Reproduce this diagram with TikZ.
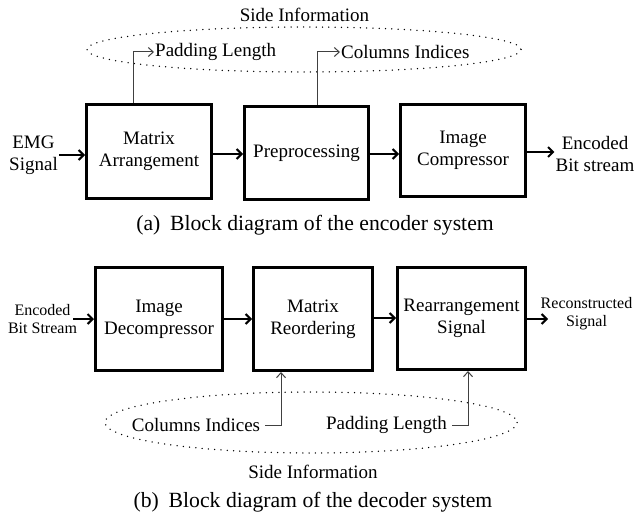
\documentclass[tikz,border=0pt]{standalone}
\usepackage{fontspec}
\setmainfont{Liberation Serif}
\usetikzlibrary{arrows.meta}
\begin{document}
\begin{tikzpicture}[x=1pt,y=-1pt,
 blk/.style={draw,line width=3pt,align=center,font=\fontsize{19}{22}\selectfont,inner sep=0pt},
 lbl/.style={align=center,font=\fontsize{19}{22}\selectfont,inner sep=1pt},
 small/.style={align=center,font=\fontsize{16}{18}\selectfont,inner sep=1pt},
 captext/.style={font=\fontsize{21.7}{26}\selectfont,inner sep=0pt},
 mainarr/.style={line width=2pt,-{Straight Barb[length=5pt,width=10pt]}},
 sidearr/.style={line width=1pt,draw=black!75,-{Straight Barb[length=5pt,width=9pt]}},
 dots/.style={line width=1.5pt,dash pattern=on 0pt off 6.3pt,line cap=round}]
\useasboundingbox (0,0) rectangle (634,516);

% ---------- encoder ----------
\draw[dots] (304,49.5) ellipse [x radius=217, y radius=22.5];
\node[lbl] (si1) at (304.5,15) {Side Information};
\node[lbl,anchor=west] (pl1) at (154,52) {Padding Length};
\node[lbl,anchor=west] (ci1) at (340,52) {Columns Indices};

\node[blk,minimum width=125,minimum height=94] (e1) at (149,151.5) {Matrix\\Arrangement};
\node[blk,minimum width=124,minimum height=93] (e2) at (306.5,153) {Preprocessing};
\node[blk,minimum width=125,minimum height=92] (e3) at (463,150.5) {Image\\Compressor};

\node[lbl] (emg) at (33.5,155) {EMG\\Signal};
\node[lbl] (enc) at (595,154) {Encoded\\Bit stream};

\draw[mainarr] (emg.east) -- (emg.east -| e1.west);
\draw[mainarr] ([yshift=-2.5pt]e1.east) -- ([yshift=-2.5pt]e1.east -| e2.west);
\draw[mainarr] ([yshift=-1pt]e2.east) -- ([yshift=-1pt]e2.east -| e3.west);
\draw[mainarr] ([yshift=-1.5pt]e3.east) -- ([yshift=-1.5pt]e3.east -| enc.west);

\coordinate (s1) at (133,0);
\coordinate (s2) at (317,0);
\draw[sidearr] (s1 |- e1.north) |- (pl1.west);
\draw[sidearr] (s2 |- e2.north) |- (ci1.west);

\node[captext] (capa) at (315,225) {(a)\hspace{0.45em}Block diagram of the encoder system};

% ---------- decoder ----------
\node[blk,minimum width=127,minimum height=103] (d1) at (159,319) {Image\\Decompressor};
\node[blk,minimum width=119,minimum height=103] (d2) at (313,319) {Matrix\\Reordering};
\node[blk,minimum width=128,minimum height=102] (d3) at (461.5,318.5) {Rearrangement\\Signal};

\node[small] (ebs) at (42.5,319) {Encoded\\Bit Stream};
\node[small] (rec) at (586.5,314) {Reconstructed\\Signal};
\coordinate (dout) at (548,319);

\draw[mainarr] ([xshift=-5pt]ebs.east) -- (ebs.east -| d1.west);
\draw[mainarr] (d1.east) -- (d1.east -| d2.west);
\draw[mainarr] ([yshift=1pt]d2.east) -- ([yshift=1pt]d2.east -| d3.west);
\draw[mainarr] (d3.east |- dout) -- (dout);

\draw[dots] (311,422.5) ellipse [x radius=206, y radius=30.5];
\node[lbl] (ci2) at (196,425) {Columns Indices};
\node[lbl] (pl2) at (386.5,425) {Padding Length};
\node[lbl] (si2) at (313,472) {Side Information};

\coordinate (s3) at (281,0);
\coordinate (s4) at (468,0);
\draw[sidearr] ([xshift=4pt]ci2.east) -| (s3 |- d2.south);
\draw[sidearr] ([xshift=4pt]pl2.east) -| (s4 |- d3.south);

\node[captext] (capb) at (313,502) {(b)\hspace{0.45em}Block diagram of the decoder system};
\end{tikzpicture}
\end{document}
